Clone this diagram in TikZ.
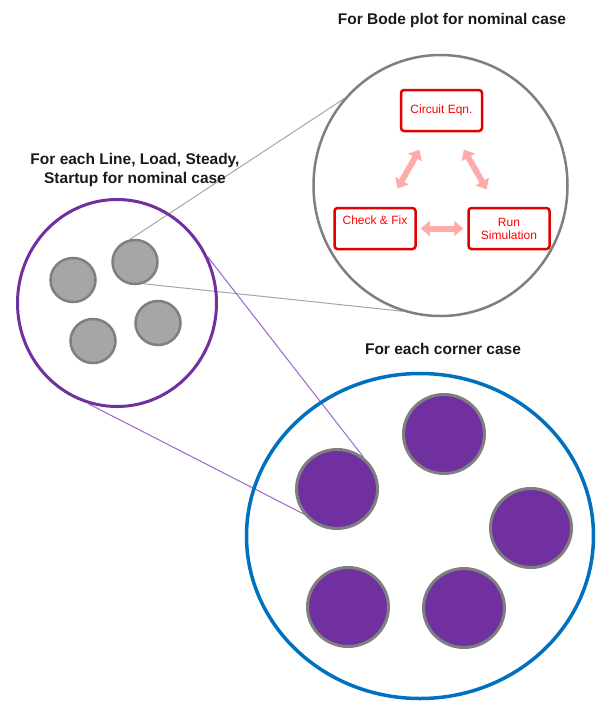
\documentclass[tikz,border=0pt]{standalone}
\usepackage{fontspec}
\setmainfont{Liberation Sans}
\usetikzlibrary{shapes.geometric,arrows.meta,backgrounds}
\definecolor{ringgray}{HTML}{7F7F7F}
\definecolor{diskgray}{HTML}{A6A6A6}
\definecolor{casepurple}{HTML}{7030A0}
\definecolor{caseblue}{HTML}{0070C0}
\definecolor{boxred}{HTML}{E00000}
\definecolor{arrowpink}{HTML}{FFABAB}
\definecolor{linkgray}{HTML}{A6A6A6}
\definecolor{linkpurple}{HTML}{9A66CC}
\definecolor{titleink}{HTML}{1A1A1A}
\begin{document}
\begin{tikzpicture}[x=1pt,y=-1pt,
  ring/.style={ellipse,inner sep=0pt,draw},
  bodering/.style={ring,draw=ringgray,line width=2.5pt,minimum width=254pt,minimum height=261pt},
  nomring/.style={ring,draw=casepurple,line width=3pt,minimum width=199pt,minimum height=207pt},
  cornerring/.style={ring,draw=caseblue,line width=3.5pt,minimum width=347pt,minimum height=325pt},
  graydisk/.style={ring,fill=diskgray,draw=ringgray,line width=2.5pt,minimum width=45pt,minimum height=44pt},
  purpledisk/.style={ring,fill=casepurple,draw=ringgray,line width=3pt,minimum width=81pt,minimum height=79pt},
  stepbox/.style={rectangle,rounded corners=3pt,draw=boxred,line width=2.5pt,
    minimum width=81pt,minimum height=41pt,inner sep=0pt,text=red,align=center,
    font=\fontsize{12}{13}\selectfont},
  title/.style={align=center,text=titleink,font=\fontsize{15.5}{19}\selectfont\bfseries},
  cyclearrow/.style={draw=arrowpink,line width=6pt,
    {Triangle[width=15pt,length=9pt]}-{Triangle[width=15pt,length=9pt]}},
  link/.style={draw=linkgray,line width=1pt},
  plink/.style={draw=linkpurple,line width=1pt}]
\useasboundingbox (0,0) rectangle (598,702);

% titles
\node[title] (bodetitle) at (452,20) {For Bode plot for nominal case};
\node[title] (nomtitle) at (135,169.5) {For each Line, Load, Steady,\\Startup for nominal case};
\node[title] (cornertitle) at (443,349) {For each corner case};

% Bode loop
\node[bodering] (bode) at (440.5,185.5) {};
\node[stepbox] (circuit) at (441.5,110.5) {Circuit Eqn.};
\node[stepbox] (check) at (375,228.5) {Check \& Fix\\\strut};
\node[stepbox] (run) at (509,228.5) {Run\\Simulation};
\draw[cyclearrow,shorten <=21pt,shorten >=20pt] (check) -- (circuit);
\draw[cyclearrow,shorten <=20pt,shorten >=20pt] (circuit) -- (run);
\draw[cyclearrow,shorten <=4pt,shorten >=4pt] (check) -- (run);

% nominal cases
\node[nomring] (nom) at (117,303) {};
\node[graydisk] (g1) at (73,280) {};
\node[graydisk] (g2) at (135,262) {};
\node[graydisk] (g3) at (158,323) {};
\node[graydisk] (g4) at (93,341) {};

% corner cases
\node[cornerring] (corner) at (420,536) {};
\node[purpledisk] (p1) at (337,489) {};
\node[purpledisk] (p2) at (444,434) {};
\node[purpledisk] (p3) at (531,528) {};
\node[purpledisk] (p4) at (348,607) {};
\node[purpledisk] (p5) at (464,608) {};

% zoom-out lines
\begin{scope}[on background layer]
  \draw[link] (g2.102) -- (bode.138);
  \draw[link] (g2.-69) -- (bode.-107);
  \draw[plink] (nom.27) -- (p1.50);
  \draw[plink] (nom.254) -- (p1.217);
\end{scope}
\end{tikzpicture}
\end{document}
